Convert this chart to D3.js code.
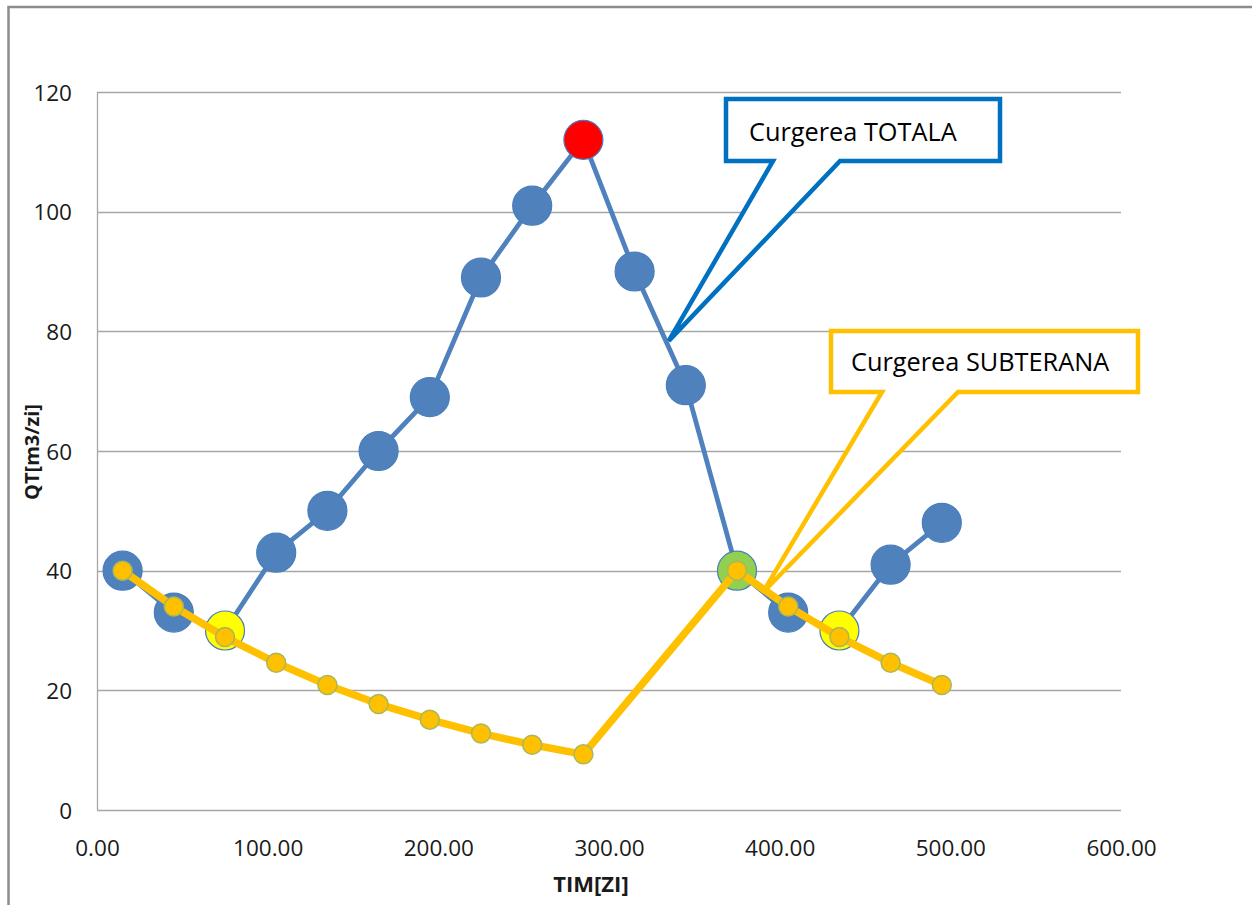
<!DOCTYPE html>
<html>
<head>
<meta charset="utf-8">
<script src="https://cdn.jsdelivr.net/npm/d3@7"></script>
<style>
  html, body { margin: 0; padding: 0; background: #fff; }
  svg { display: block; }
  text { font-family: "Open Sans", "DejaVu Sans", sans-serif; }
</style>
</head>
<body>
<svg id="chart" width="1252" height="905"></svg>
<script>
// ---- data ----
const timDays = [15, 45, 75, 105, 135, 165, 195, 225, 255, 285, 315, 345, 375, 405, 435, 465, 495];
const totalFlow = [40, 33, 30, 43, 50, 60, 69, 89, 101, 112, 90, 71, 40, 33, 30, 41, 48];
const subDays = [15, 45, 75, 105, 135, 165, 195, 225, 255, 285, 375, 405, 435, 465, 495];
const subFlow = [40, 34, 28.9, 24.6, 20.9, 17.7, 15.1, 12.8, 10.9, 9.3, 40, 34, 28.9, 24.6, 20.9];
const yTicks = [0, 20, 40, 60, 80, 100, 120];
const xTicks = [0, 100, 200, 300, 400, 500, 600];
const highlightDays = [75, 285, 375, 435];
const highlightKinds = ["start", "peak", "end", "start"];
const calloutLabels = ["Curgerea TOTALA", "Curgerea SUBTERANA"];
const calloutTips = [[335, 78.4], [390, 36.3]];   // data coordinates of pointer tips
const xTitle = "TIM[ZI]";
const yTitle = "QT[m3/zi]";

// ---- styles ----
const blue = "#4F81BD";
const orange = "#FFC000";
const kindFill = { start: "#FFFF00", peak: "#FF0000", end: "#92D050" };

const svg = d3.select("#chart");

// outer chart frame (cut off right & bottom as in reference)
svg.append("path")
  .attr("d", "M8.5,905 L8.5,7 L1252,7")
  .attr("fill", "none").attr("stroke", "#8c8c8c").attr("stroke-width", 2.5);

const x = d3.scaleLinear().domain([0, 600]).range([97, 1121]);
const y = d3.scaleLinear().domain([0, 120]).range([810, 92]);

// gridlines
svg.append("g").selectAll("line").data(yTicks.filter(d => d > 0)).join("line")
  .attr("x1", x(0)).attr("x2", x(600))
  .attr("y1", d => Math.round(y(d)) + 0.5).attr("y2", d => Math.round(y(d)) + 0.5)
  .attr("stroke", "#a6a6a6").attr("stroke-width", 1.3);

// axes lines
svg.append("line").attr("x1", x(0) + 0.5).attr("x2", x(0) + 0.5).attr("y1", y(120)).attr("y2", y(0))
  .attr("stroke", "#a6a6a6").attr("stroke-width", 1.3);
svg.append("line").attr("x1", x(0)).attr("x2", x(600)).attr("y1", y(0) + 0.5).attr("y2", y(0) + 0.5)
  .attr("stroke", "#a6a6a6").attr("stroke-width", 1.3);

// tick labels via d3 axes (no domain/ticks lines)
const yAxis = svg.append("g").attr("transform", `translate(${x(0)},0)`)
  .call(d3.axisLeft(y).tickValues(yTicks).tickFormat(d3.format("d")).tickSize(0).tickPadding(25));
const xAxis = svg.append("g").attr("transform", `translate(0,${y(0)})`)
  .call(d3.axisBottom(x).tickValues(xTicks).tickFormat(d3.format(".2f")).tickSize(0).tickPadding(30));
[yAxis, xAxis].forEach(g => {
  g.select(".domain").remove();
  g.selectAll("text").attr("font-size", 22.5).attr("fill", "#1a1a1a")
    .attr("font-family", "'Open Sans', sans-serif");
});
yAxis.selectAll("text").attr("dy", "0.36em");
xAxis.selectAll("text").attr("dy", "0.71em");

// axis titles
svg.append("text").attr("x", 591).attr("y", 892).attr("text-anchor", "middle")
  .attr("font-size", 22).attr("font-weight", "bold").attr("fill", "#1a1a1a").text(xTitle);
svg.append("text").attr("transform", "translate(39,452) rotate(-90)").attr("text-anchor", "middle")
  .attr("font-size", 20).attr("font-weight", "bold").attr("fill", "#1a1a1a").text(yTitle);

// total series
const totalPts = timDays.map((d, i) => ({ x: d, y: totalFlow[i] }));
const line = d3.line().x(d => x(d.x)).y(d => y(d.y));
svg.append("path").datum(totalPts).attr("d", line)
  .attr("fill", "none").attr("stroke", blue).attr("stroke-width", 4.8).attr("stroke-linejoin", "round");
svg.append("g").selectAll("circle").data(totalPts).join("circle")
  .attr("cx", d => x(d.x)).attr("cy", d => y(d.y)).attr("r", 19.5)
  .attr("fill", d => {
    const k = highlightDays.indexOf(d.x);
    return k >= 0 ? kindFill[highlightKinds[k]] : blue;
  })
  .attr("stroke", "#4A7EBB").attr("stroke-width", 1.2);

// subterranean series
const subPts = subDays.map((d, i) => ({ x: d, y: subFlow[i] }));
svg.append("path").datum(subPts).attr("d", line)
  .attr("fill", "none").attr("stroke", orange).attr("stroke-width", 7.5).attr("stroke-linejoin", "round");
svg.append("g").selectAll("circle").data(subPts).join("circle")
  .attr("cx", d => x(d.x)).attr("cy", d => y(d.y)).attr("r", 9.5)
  .attr("fill", orange).attr("stroke", "#A9B85A").attr("stroke-width", 1.5);

// callouts
const callouts = [
  { label: calloutLabels[0], color: "#0070C0", tip: calloutTips[0],
    box: [726, 99, 1000, 161], base: [773, 840], textX: 749, textY: 141 },
  { label: calloutLabels[1], color: "#FFC000", tip: calloutTips[1],
    box: [831, 331, 1138, 392], base: [882, 958], textX: 851, textY: 371 }
];
callouts.forEach(c => {
  const tx = x(c.tip[0]), ty = y(c.tip[1]);
  const [l, t, r, b] = c.box;
  const p = d3.path();
  p.moveTo(l, t); p.lineTo(r, t); p.lineTo(r, b); p.lineTo(c.base[1], b);
  p.lineTo(tx, ty); p.lineTo(c.base[0], b); p.lineTo(l, b); p.closePath();
  svg.append("path").attr("d", p.toString()).attr("fill", "#fff")
    .attr("stroke", c.color).attr("stroke-width", 4.5).attr("stroke-linejoin", "miter");
  svg.append("text").attr("x", c.textX).attr("y", c.textY)
    .attr("font-size", 25.3).attr("fill", "#000").text(c.label);
});
</script>
</body>
</html>
